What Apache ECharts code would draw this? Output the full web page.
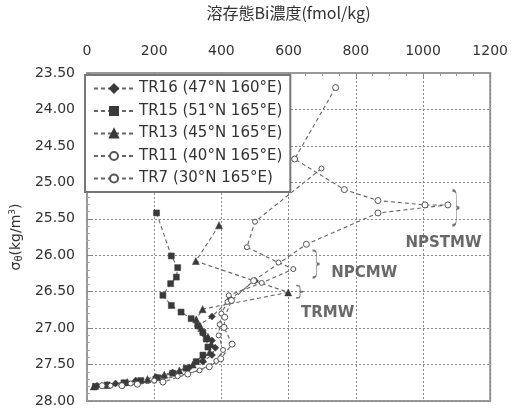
<!DOCTYPE html>
<html>
<head>
<meta charset="utf-8">
<script src="https://cdn.jsdelivr.net/npm/echarts@6/dist/echarts.min.js"></script>
<style>
html,body{margin:0;padding:0;background:#fff;}
#c{width:511px;height:410px;}
</style>
</head>
<body>
<div id="c"></div>
<script>
// ---- data (x: dissolved Bi fmol/kg, y: sigma-theta) ----
const seriesNames = ['TR16 (47°N 160°E)', 'TR15 (51°N 165°E)', 'TR13 (45°N 165°E)', 'TR11 (40°N 165°E)', 'TR7 (30°N 165°E)'];

const tr16 = [[500,26.35],[427,26.60],[372,26.84],[330,26.97],[345,27.07],[372,27.17],[382,27.27],[372,27.37],[345,27.46],[305,27.54],[255,27.61],[205,27.67],[145,27.72],[85,27.76],[30,27.79]];
const tr15 = [[207,25.42],[251,26.01],[270,26.17],[266,26.30],[249,26.39],[226,26.55],[251,26.69],[280,26.78],[310,26.87],[330,26.97],[345,27.06],[355,27.15],[360,27.26],[345,27.37],[325,27.46],[295,27.55],[255,27.62],[210,27.68],[160,27.72],[110,27.75],[60,27.78],[25,27.80]];
const tr13 = [[393,25.59],[324,26.08],[599,26.51],[344,26.74],[325,26.88],[340,27.00],[360,27.12],[370,27.22],[365,27.33],[345,27.42],[315,27.50],[275,27.58],[230,27.64],[180,27.70],[120,27.74],[60,27.78],[20,27.80]];
const tr11 = [[698,24.81],[500,25.54],[476,25.89],[570,26.10],[614,26.19],[520,26.38],[422,26.55],[418,26.64],[400,26.80],[395,26.95],[392,27.10],[405,27.30],[385,27.45],[335,27.58],[270,27.66],[200,27.72],[130,27.76],[70,27.79]];
const tr7 = [[740,23.70],[618,24.68],[766,25.10],[866,25.25],[1006,25.31],[1074,25.31],[866,25.42],[653,25.85],[496,26.35],[430,26.62],[410,26.85],[408,26.99],[432,27.22],[398,27.42],[364,27.53],[300,27.63],[226,27.74],[150,27.77],[104,27.79],[45,27.79]];

const xTicks = [0, 200, 400, 600, 800, 1000, 1200];
const yTicks = [23.5, 24, 24.5, 25, 25.5, 26, 26.5, 27, 27.5, 28];

// annotations (data coordinates)
const braceNames = ['NPSTMW', 'NPCMW', 'TRMW'];
const braceX = [1098, 682, 633];
const braceY = [25.35, 26.12, 26.50];
const braceSpan = [0.48, 0.37, 0.17];   // vertical extent in sigma units
const labelX = [1061, 825, 716];
const labelY = [25.84, 26.25, 26.80];

const chart = echarts.init(document.getElementById('c'), null, {renderer: 'canvas'});

const lineColor = '#666';
function mk(name, data, symbol, size, filled) {
  return {
    name: name, type: 'line', data: data,
    symbol: symbol, symbolSize: size,
    showSymbol: true,
    lineStyle: {color: lineColor, width: 1.1, type: [4, 3]},
    itemStyle: filled ? {color: '#3a3a3a', borderColor: '#3a3a3a', borderWidth: 0.5}
                      : {color: '#fff', borderColor: '#555', borderWidth: 1},
    z: 3
  };
}

const bracePath = 'path://M0,0 C5,0 5,3 5,8 L5,16 C5,19 6,20 9,20 C6,20 5,21 5,24 L5,32 C5,37 5,40 0,40';
const plotH = 329; // approximate px per 4.5 sigma units, used only for brace symbol height
const braceData = braceNames.map((n, i) => ({
  value: [braceX[i], braceY[i]],
  symbolSize: [7, braceSpan[i] / 4.5 * plotH]
}));
const labelData = braceNames.map((n, i) => ({name: n, value: [labelX[i], labelY[i]]}));

chart.setOption({
  animation: false,
  backgroundColor: '#fff',
  grid: {left: 85, right: 19, top: 72, bottom: 9, show: true, borderColor: '#999', borderWidth: 2, backgroundColor: '#fff'},
  legend: {
    data: seriesNames,
    orient: 'vertical',
    left: 85, top: 75,
    padding: [6, 8, 6, 8],
    itemWidth: 40, itemHeight: 10, itemGap: 7.5,
    backgroundColor: '#fff',
    borderColor: '#777', borderWidth: 2,
    textStyle: {fontFamily: 'DejaVu Sans', fontSize: 15, color: '#333', lineHeight: 15},
    z: 10
  },
  xAxis: {
    type: 'value', position: 'top',
    min: xTicks[0], max: xTicks[xTicks.length - 1], interval: 200,
    name: '溶存態Bi濃度(fmol/kg)', nameLocation: 'middle', nameGap: 52,
    nameTextStyle: {fontFamily: 'Noto Sans CJK JP', fontSize: 16, color: '#333'},
    axisLine: {show: true, lineStyle: {color: '#999', width: 2}},
    axisTick: {show: true, inside: true, length: 4, lineStyle: {color: '#888'}},
    minorTick: {show: true, splitNumber: 4, length: 3, lineStyle: {color: '#999'}},
    axisLabel: {fontFamily: 'DejaVu Sans', fontSize: 14, color: '#333', margin: 15,
      formatter: v => String(v)},
    splitLine: {show: true, lineStyle: {color: '#888', type: [2, 2], width: 1}}
  },
  yAxis: {
    type: 'value', inverse: true,
    min: yTicks[0], max: yTicks[yTicks.length - 1], interval: 0.5,
    name: '{a|σ}{b|θ}{a|(kg/m}{c|3}{a|)}', nameLocation: 'middle', nameGap: 62, nameRotate: 90,
    nameTextStyle: {
      rich: {
        a: {fontFamily: 'DejaVu Sans', fontSize: 14, color: '#333'},
        b: {fontFamily: 'DejaVu Sans', fontSize: 10, color: '#333', verticalAlign: 'bottom', padding: [6, 0, 0, 0]},
        c: {fontFamily: 'DejaVu Sans', fontSize: 9, color: '#333', verticalAlign: 'top', padding: [0, 0, 6, 0]}
      }
    },
    axisLine: {show: true, lineStyle: {color: '#999', width: 2}},
    axisTick: {show: true, inside: true, length: 4, lineStyle: {color: '#888'}},
    minorTick: {show: true, splitNumber: 5, length: 3, lineStyle: {color: '#aaa'}},
    axisLabel: {fontFamily: 'DejaVu Sans', fontSize: 14, color: '#333', margin: 12,
      formatter: v => v.toFixed(2)},
    splitLine: {show: true, lineStyle: {color: '#888', type: [2, 2], width: 1}}
  },
  series: [
    mk(seriesNames[0], tr16, 'diamond', 7, true),
    mk(seriesNames[1], tr15, 'rect', 6, true),
    mk(seriesNames[2], tr13, 'triangle', 7, true),
    mk(seriesNames[3], tr11, 'circle', 5, false),
    mk(seriesNames[4], tr7, 'circle', 6, false),
    {
      name: 'braces', type: 'scatter', data: braceData,
      symbol: bracePath, symbolKeepAspect: false,
      itemStyle: {color: 'rgba(0,0,0,0)', borderColor: '#555', borderWidth: 1.2},
      silent: true, z: 2
    },
    {
      name: 'labels', type: 'scatter', data: labelData,
      symbol: 'circle', symbolSize: 0,
      label: {show: true, position: 'inside', formatter: p => p.name,
        fontFamily: 'DejaVu Sans', fontSize: 15, fontWeight: 'bold', color: '#444'},
      silent: true, z: 2
    }
  ]
});
</script>
</body>
</html>
